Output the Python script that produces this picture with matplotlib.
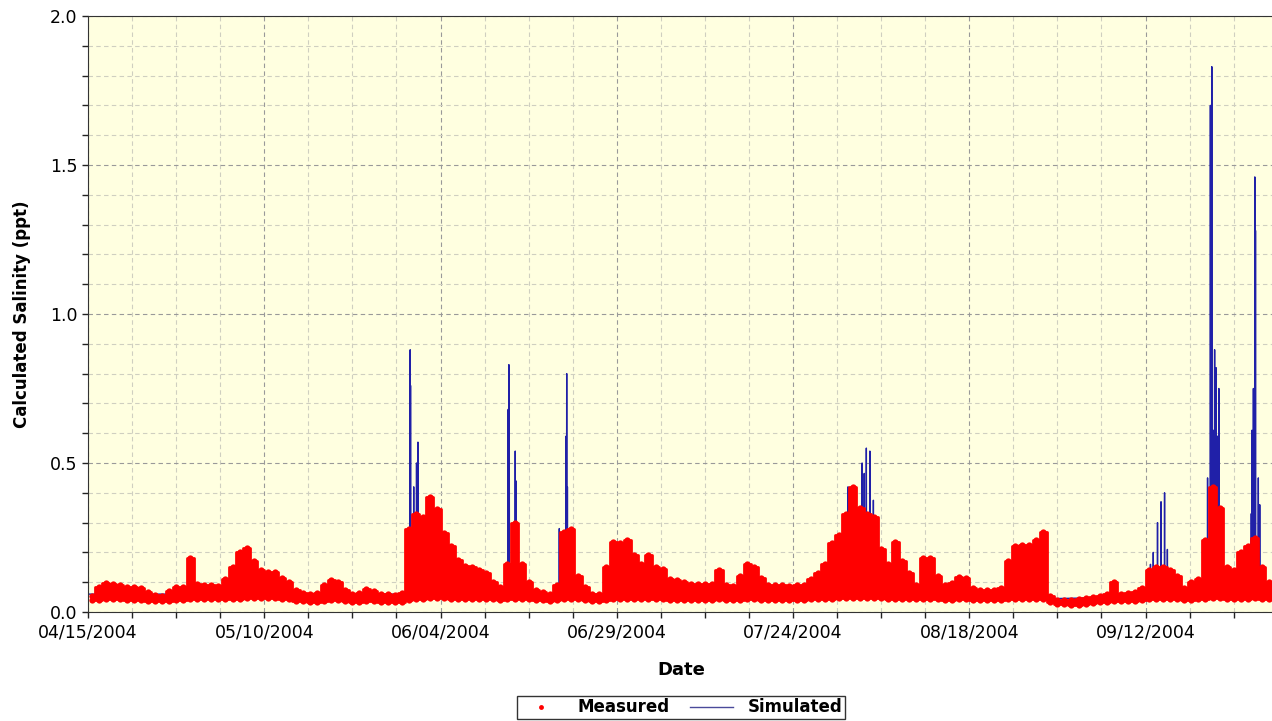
import datetime as dt
import numpy as np
from matplotlib import pyplot as plt
from matplotlib.ticker import MultipleLocator, FuncFormatter

start = dt.date(2004, 4, 15)

# daily envelope of the measured salinity (ppt), day 0 = 04/15/2004
meas_high = [0.055, 0.085, 0.098, 0.095, 0.090, 0.085, 0.083, 0.080, 0.068, 0.058,
             0.055, 0.070, 0.085, 0.084, 0.180, 0.095, 0.092, 0.090, 0.088, 0.110,
             0.150, 0.200, 0.215, 0.170, 0.140, 0.135, 0.135, 0.115, 0.100, 0.075,
             0.063, 0.062, 0.065, 0.090, 0.108, 0.100, 0.075, 0.062, 0.065, 0.078,
             0.070, 0.060, 0.060, 0.058, 0.065, 0.280, 0.330, 0.320, 0.385, 0.345,
             0.265, 0.220, 0.175, 0.155, 0.150, 0.140, 0.130, 0.100, 0.085, 0.160,
             0.300, 0.160, 0.100, 0.075, 0.068, 0.062, 0.090, 0.270, 0.280, 0.120,
             0.085, 0.062, 0.062, 0.150, 0.235, 0.230, 0.240, 0.190, 0.160, 0.190,
             0.150, 0.145, 0.110, 0.107, 0.100, 0.095, 0.095, 0.093, 0.095, 0.140,
             0.090, 0.088, 0.120, 0.160, 0.150, 0.115, 0.090, 0.090, 0.092, 0.088,
             0.090, 0.090, 0.110, 0.130, 0.160, 0.230, 0.260, 0.330, 0.420, 0.350,
             0.330, 0.320, 0.210, 0.160, 0.235, 0.170, 0.130, 0.090, 0.180, 0.180,
             0.120, 0.090, 0.096, 0.117, 0.115, 0.080, 0.073, 0.073, 0.075, 0.080,
             0.170, 0.220, 0.225, 0.225, 0.240, 0.268, 0.055, 0.040, 0.040, 0.040,
             0.042, 0.048, 0.052, 0.055, 0.060, 0.100, 0.062, 0.065, 0.068, 0.080,
             0.140, 0.150, 0.150, 0.140, 0.120, 0.080, 0.100, 0.110, 0.240, 0.420,
             0.350, 0.150, 0.140, 0.200, 0.220, 0.250, 0.150, 0.100, 0.100]
meas_low = [0.040, 0.040, 0.042, 0.042, 0.042, 0.041, 0.040, 0.040, 0.038, 0.036,
            0.036, 0.037, 0.040, 0.040, 0.042, 0.042, 0.042, 0.042, 0.042, 0.043,
            0.045, 0.045, 0.046, 0.046, 0.047, 0.047, 0.046, 0.045, 0.042, 0.038,
            0.036, 0.035, 0.035, 0.037, 0.040, 0.040, 0.037, 0.035, 0.035, 0.037,
            0.036, 0.034, 0.034, 0.034, 0.035, 0.040, 0.045, 0.045, 0.046, 0.046,
            0.046, 0.045, 0.045, 0.045, 0.044, 0.044, 0.043, 0.042, 0.041, 0.042,
            0.045, 0.045, 0.042, 0.040, 0.039, 0.038, 0.039, 0.042, 0.044, 0.042,
            0.040, 0.038, 0.038, 0.040, 0.043, 0.044, 0.044, 0.044, 0.043, 0.043,
            0.042, 0.042, 0.041, 0.041, 0.041, 0.041, 0.041, 0.041, 0.041, 0.042,
            0.041, 0.041, 0.041, 0.042, 0.042, 0.041, 0.041, 0.041, 0.041, 0.041,
            0.041, 0.041, 0.042, 0.042, 0.043, 0.045, 0.046, 0.047, 0.048, 0.048,
            0.048, 0.047, 0.046, 0.045, 0.045, 0.044, 0.043, 0.042, 0.043, 0.043,
            0.042, 0.041, 0.041, 0.042, 0.042, 0.041, 0.040, 0.040, 0.040, 0.040,
            0.042, 0.043, 0.043, 0.043, 0.043, 0.043, 0.032, 0.028, 0.026, 0.025,
            0.025, 0.027, 0.030, 0.032, 0.034, 0.036, 0.036, 0.037, 0.038, 0.039,
            0.042, 0.044, 0.044, 0.043, 0.042, 0.041, 0.041, 0.042, 0.044, 0.046,
            0.046, 0.044, 0.043, 0.044, 0.045, 0.046, 0.044, 0.042, 0.042]

# simulated salinity: slow baseline plus short spikes
sim_base_days = [0, 44, 136, 137, 149, 168.5]
sim_base_vals = [0.06, 0.06, 0.06, 0.045, 0.05, 0.06]
spike_days = [45.7, 45.75, 46.2, 46.6, 46.8, 59.6, 59.7, 59.75, 60.6, 60.7,
              66.85, 67.8, 67.9, 68.0, 107.8, 109.8, 110.1, 110.4, 110.9, 111.4,
              111.9, 150.7, 151.1, 151.7, 152.2, 152.7, 153.1, 158.8, 159.2, 159.4,
              159.6, 159.8, 160.0, 160.2, 160.4, 165.0, 165.1, 165.3, 165.5, 165.6,
              166.0, 166.2]
spike_vals = [0.88, 0.76, 0.42, 0.50, 0.57, 0.68, 0.83, 0.61, 0.54, 0.44,
              0.28, 0.59, 0.80, 0.42, 0.42, 0.50, 0.465, 0.55, 0.54, 0.375,
              0.31, 0.16, 0.20, 0.30, 0.37, 0.40, 0.21, 0.45, 1.70, 1.83,
              0.61, 0.88, 0.82, 0.59, 0.75, 0.33, 0.61, 0.75, 1.46, 1.28,
              0.45, 0.36]

days = np.arange(len(meas_high)) + 0.5

# simulated line
base = np.interp(spike_days, sim_base_days, sim_base_vals)
sx = list(sim_base_days)
sy = list(sim_base_vals)
for d, v, b in zip(spike_days, spike_vals, base):
    sx += [d - 0.03, d, d + 0.03]
    sy += [b, v, b]
order = np.argsort(sx, kind='stable')
sx = np.array(sx)[order]
sy = np.array(sy)[order]

fig = plt.figure(figsize=(12.72, 7.21), dpi=100)
ax = fig.add_axes([88 / 1272, 109 / 721, 1 - 88 / 1272 + 0.002, 596 / 721])
ax.set_facecolor('#ffffe0')

ax.plot(sx, sy, color='#2020a8', lw=1.0, zorder=2)
ax.fill_between(days, meas_low, meas_high, step='mid', color='#ff0000', lw=2.0,
                edgecolor='#ff0000', zorder=3)
ax.plot(days, meas_high, 'o', color='#ff0000', ms=4.5, mew=0, zorder=3)
ax.plot(days, meas_low, 'o', color='#ff0000', ms=4.5, mew=0, zorder=3)

ax.set_xlim(0, 168.3)
ax.set_ylim(0, 2.0)
ax.xaxis.set_major_locator(MultipleLocator(25))
ax.xaxis.set_minor_locator(MultipleLocator(6.25))
ax.yaxis.set_major_locator(MultipleLocator(0.5))
ax.yaxis.set_minor_locator(MultipleLocator(0.1))
ax.xaxis.set_major_formatter(FuncFormatter(
    lambda v, p: (start + dt.timedelta(days=int(round(v)))).strftime('%m/%d/%Y')))
ax.yaxis.set_major_formatter(FuncFormatter(lambda v, p: '%.1f' % v))

ax.grid(which='major', color='#999999', ls='--', lw=0.8, dashes=(4, 3))
ax.grid(which='minor', color='#cfcfc0', ls='--', lw=0.8, dashes=(4, 3))
ax.set_axisbelow(True)

ax.tick_params(which='both', direction='out', length=4, width=1, colors='#222222',
               labelsize=12.5, labelcolor='black')
ax.tick_params(axis='x', pad=4)
ax.spines['right'].set_visible(False)
for s in ['left', 'top', 'bottom']:
    ax.spines[s].set_color('#333333')

ax.set_xlabel('Date', fontsize=13, fontweight='bold', labelpad=14)
ax.set_ylabel('Calculated Salinity (ppt)', fontsize=12, fontweight='bold', labelpad=14)

h1, = ax.plot([], [], 'o', color='#ff0000', ms=3.5, mew=0)
h2, = ax.plot([], [], color='#4a4a9a', lw=1.0)
leg = fig.legend([h1, h2], ['Measured', 'Simulated'], loc='center',
                 bbox_to_anchor=(681 / 1272, 1 - 707.5 / 721), ncol=2,
                 fancybox=False, framealpha=1, edgecolor='#333333',
                 prop={'weight': 'bold', 'size': 12}, handlelength=2.6,
                 columnspacing=1.2, borderpad=0.15, handletextpad=0.9,
                 borderaxespad=0.2)
leg.get_frame().set_linewidth(1.0)

fig.savefig('out.png', dpi=100)
